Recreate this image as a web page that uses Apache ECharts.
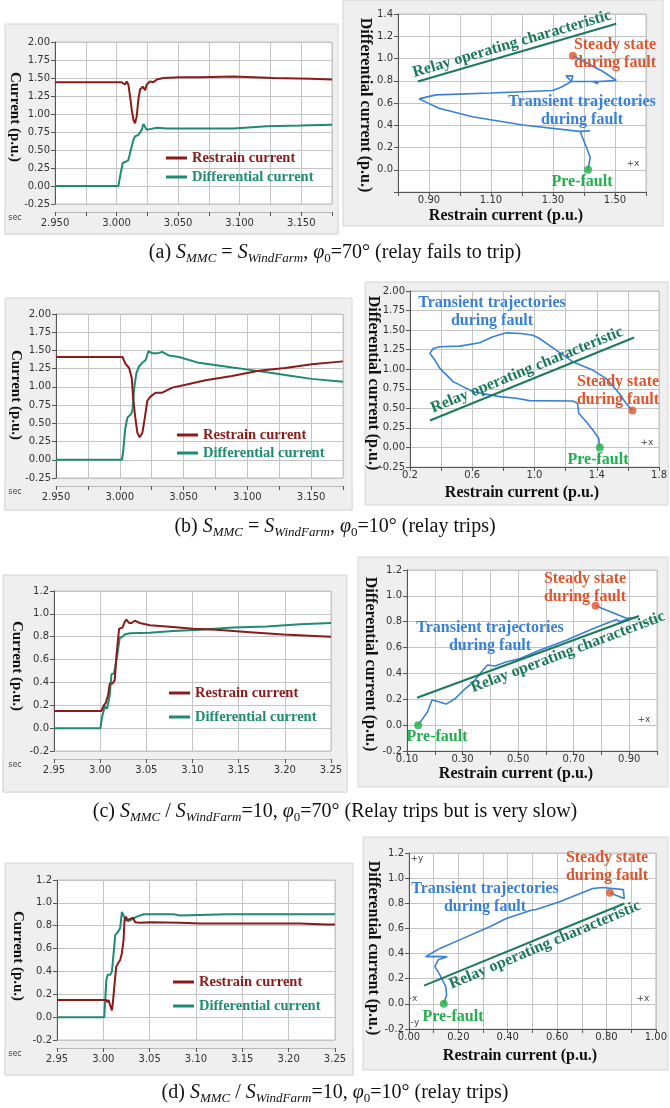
<!DOCTYPE html>
<html>
<head>
<meta charset="utf-8">
<script src="https://cdn.jsdelivr.net/npm/echarts@6/dist/echarts.min.js"></script>
<style>
  html, body { margin: 0; padding: 0; background: #fff; }
  #chart { width: 670px; height: 1108px; }
</style>
</head>
<body>
<div id="chart"></div>
<script>
// ---- (a) S_MMC = S_WindFarm, phi0 = 70
const aRestrainT = [2.95, 3.0042, 3.0069, 3.0083, 3.0096, 3.0110, 3.0123, 3.0137, 3.0150, 3.0164, 3.0177, 3.0191, 3.0213, 3.0232, 3.0245, 3.0272, 3.0299, 3.0327, 3.0381, 3.0516, 3.0679, 3.0950, 3.1275, 3.1573, 3.175]
const aRestrainV = [1.44, 1.44, 1.41, 1.45, 1.41, 1.24, 1.06, 0.92, 0.87, 0.97, 1.20, 1.34, 1.38, 1.33, 1.41, 1.45, 1.44, 1.48, 1.50, 1.51, 1.51, 1.52, 1.50, 1.49, 1.48]
const aDiffT = [2.95, 3.0015, 3.0028, 3.0050, 3.0077, 3.0096, 3.0110, 3.0123, 3.0137, 3.0150, 3.0177, 3.0191, 3.0205, 3.0218, 3.0232, 3.0245, 3.0272, 3.0327, 3.0408, 3.0679, 3.0950, 3.1221, 3.1492, 3.175]
const aDiffV = [0, 0, 0.13, 0.32, 0.34, 0.36, 0.46, 0.55, 0.64, 0.69, 0.71, 0.73, 0.78, 0.86, 0.84, 0.78, 0.79, 0.81, 0.80, 0.80, 0.80, 0.83, 0.84, 0.85]
const aTrajX = [1.413, 1.420, 1.408, 1.395, 1.388, 1.420, 1.385, 1.202, 1.040, 0.932, 0.868, 0.922, 1.100, 1.299, 1.326, 1.359, 1.342, 1.364, 1.359, 1.364, 1.440, 1.445, 1.430, 1.504, 1.461, 1.364]
const aTrajY = [0.000, 0.110, 0.200, 0.290, 0.342, 0.350, 0.345, 0.402, 0.477, 0.553, 0.637, 0.673, 0.690, 0.712, 0.742, 0.793, 0.844, 0.844, 0.793, 0.778, 0.793, 0.772, 0.790, 0.802, 0.883, 1.024]
const aRelayX = [0.864, 1.504]
const aRelayY = [0.793, 1.313]
const aSteady = [1.364, 1.024]
const aPre = [1.413, 0.0]

// ---- (b) S_MMC = S_WindFarm, phi0 = 10
const bRestrainT = [2.95, 3.0021, 3.0047, 3.0073, 3.0094, 3.0104, 3.0120, 3.0138, 3.0156, 3.0177, 3.0195, 3.0216, 3.0242, 3.0281, 3.0333, 3.0411, 3.0516, 3.0672, 3.0880, 3.1089, 3.1297, 3.1505, 3.175]
const bRestrainV = [1.41, 1.41, 1.31, 1.26, 1.12, 0.87, 0.60, 0.37, 0.31, 0.37, 0.56, 0.81, 0.87, 0.92, 0.92, 0.99, 1.03, 1.09, 1.15, 1.22, 1.26, 1.31, 1.35]
const bDiffT = [2.95, 3.0016, 3.0026, 3.0042, 3.0060, 3.0086, 3.0099, 3.0112, 3.0130, 3.0151, 3.0177, 3.0203, 3.0224, 3.0255, 3.0294, 3.0333, 3.0385, 3.0464, 3.0620, 3.0828, 3.1036, 3.1193, 3.1349, 3.1505, 3.175]
const bDiffV = [0, 0, 0.10, 0.42, 0.58, 0.62, 0.67, 0.97, 1.19, 1.28, 1.33, 1.37, 1.49, 1.46, 1.46, 1.48, 1.43, 1.41, 1.33, 1.28, 1.23, 1.19, 1.15, 1.11, 1.07]
const bTrajX = [1.420, 1.412, 1.373, 1.331, 1.284, 1.277, 1.271, 1.245, 0.968, 0.883, 0.776, 0.605, 0.477, 0.392, 0.360, 0.328, 0.349, 0.392, 0.520, 0.648, 0.733, 0.819, 0.915, 0.989, 1.032, 1.139, 1.245, 1.373, 1.459, 1.544, 1.587, 1.629]
const bTrajY = [0.000, 0.119, 0.225, 0.331, 0.437, 0.565, 0.586, 0.594, 0.599, 0.628, 0.650, 0.713, 0.841, 1.011, 1.117, 1.202, 1.265, 1.287, 1.295, 1.338, 1.414, 1.465, 1.456, 1.435, 1.393, 1.244, 1.096, 0.989, 0.883, 0.692, 0.565, 0.471]
const bRelayX = [0.328, 1.640]
const bRelayY = [0.344, 1.406]
const bSteady = [1.629, 0.471]
const bPre = [1.420, 0.0]

// ---- (c) S_MMC / S_WindFarm = 10, phi0 = 70
const cRestrainT = [2.95, 3.0013, 3.0039, 3.0060, 3.0086, 3.0104, 3.0133, 3.0158, 3.0176, 3.0205, 3.0241, 3.0266, 3.0285, 3.0313, 3.0339, 3.0375, 3.0429, 3.0538, 3.0718, 3.1008, 3.1261, 3.1622, 3.1984, 3.25]
const cRestrainV = [0.15, 0.15, 0.20, 0.22, 0.29, 0.39, 0.39, 0.42, 0.63, 0.87, 0.88, 0.93, 0.95, 0.92, 0.92, 0.94, 0.92, 0.90, 0.89, 0.87, 0.86, 0.84, 0.82, 0.80]
const cDiffT = [2.95, 3.0003, 3.0021, 3.0050, 3.0075, 3.0104, 3.0122, 3.0151, 3.0169, 3.0183, 3.0212, 3.0241, 3.0266, 3.0321, 3.0538, 3.0791, 3.1080, 3.1441, 3.1803, 3.2165, 3.25]
const cDiffV = [0, 0, 0.10, 0.19, 0.17, 0.29, 0.47, 0.48, 0.47, 0.63, 0.79, 0.80, 0.82, 0.83, 0.835, 0.85, 0.86, 0.88, 0.89, 0.91, 0.92]
const cTrajX = [0.140, 0.174, 0.190, 0.214, 0.241, 0.274, 0.304, 0.340, 0.363, 0.390, 0.417, 0.459, 0.507, 0.579, 0.675, 0.771, 0.854, 0.866, 0.902, 0.930, 0.890, 0.779]
const cTrajY = [0.000, 0.103, 0.194, 0.181, 0.163, 0.206, 0.271, 0.335, 0.400, 0.465, 0.457, 0.490, 0.516, 0.581, 0.658, 0.748, 0.818, 0.800, 0.826, 0.834, 0.826, 0.924]
const cRelayX = [0.136, 0.935]
const cRelayY = [0.212, 0.844]
const cSteady = [0.779, 0.924]
const cPre = [0.140, 0.0]

// ---- (d) S_MMC / S_WindFarm = 10, phi0 = 10
const dRestrainT = [2.95, 3.0032, 3.0046, 3.0057, 3.0075, 3.0093, 3.0103, 3.0118, 3.0139, 3.0165, 3.0182, 3.0200, 3.0218, 3.0229, 3.0244, 3.0261, 3.0290, 3.0319, 3.0344, 3.0398, 3.0506, 3.0829, 3.1045, 3.2122, 3.2409, 3.25]
const dRestrainV = [0.15, 0.15, 0.13, 0.15, 0.10, 0.06, 0.13, 0.26, 0.44, 0.48, 0.50, 0.56, 0.67, 0.85, 0.88, 0.85, 0.86, 0.87, 0.83, 0.825, 0.83, 0.825, 0.82, 0.82, 0.81, 0.81]
const dDiffT = [2.95, 3.0010, 3.0032, 3.0046, 3.0075, 3.0093, 3.0111, 3.0129, 3.0154, 3.0182, 3.0200, 3.0218, 3.0236, 3.0272, 3.0308, 3.0362, 3.0434, 3.0757, 3.0829, 3.1332, 3.25]
const dDiffV = [0, 0, 0.32, 0.37, 0.37, 0.40, 0.56, 0.72, 0.74, 0.78, 0.92, 0.89, 0.85, 0.84, 0.855, 0.88, 0.90, 0.90, 0.89, 0.90, 0.90]
const dTrajX = [0.141, 0.152, 0.149, 0.125, 0.105, 0.118, 0.155, 0.112, 0.067, 0.125, 0.219, 0.327, 0.394, 0.495, 0.515, 0.610, 0.744, 0.785, 0.868, 0.872, 0.838, 0.814]
const dTrajY = [0.000, 0.071, 0.137, 0.230, 0.296, 0.350, 0.375, 0.378, 0.375, 0.441, 0.521, 0.613, 0.679, 0.745, 0.751, 0.812, 0.917, 0.925, 0.909, 0.838, 0.864, 0.883]
const dRelayX = [0.061, 0.872]
const dRelayY = [0.145, 0.798]
const dSteady = [0.814, 0.883]
const dPre = [0.141, 0.0]

const SERIF = 'Liberation Serif'
const SANS = 'DejaVu Sans'
const C_RES = '#8b1a1a'
const C_DIF = '#1f8b71'
const C_TRAJ = '#3a80d6'
const C_RELAY = '#1b7a5b'
const C_STEADY = '#e0552e'
const C_PRE = '#21b04c'

const grids = [], xAxes = [], yAxes = [], series = [], legends = [], graphics = []

const pairs = (xs, ys) => xs.map((x, i) => [x, ys[i]])

const tickLabel = { fontFamily: SANS, fontSize: 10, color: '#333' }

function grayBox(x, y, w, h, fill) {
  graphics.push({ type: 'rect', z: -10, shape: { x, y, width: w, height: h }, style: { fill: fill || '#efefef', stroke: '#d6d6d6', lineWidth: 1 } })
}

function label(x, y, str, color, size, rot) {
  graphics.push({
    type: 'text', x, y, rotation: rot || 0, z: 50,
    style: { text: str, fill: color, font: `bold ${size}px "${SERIF}"`, align: 'center', verticalAlign: 'middle', textAlign: 'center', textVerticalAlign: 'middle' }
  })
}

function small(x, y, str, size) {
  graphics.push({
    type: 'text', x, y, z: 50,
    style: { text: str, fill: '#444', font: `${size || 8}px "${SANS}"`, align: 'center', verticalAlign: 'middle', textAlign: 'center', textVerticalAlign: 'middle' }
  })
}

function addGrid(r) {
  grids.push({ left: r[0], top: r[1], width: r[2], height: r[3], show: true, backgroundColor: '#fff', borderColor: '#c4c4c4', borderWidth: 1 })
  return grids.length - 1
}

function yAxis(g, o) {
  yAxes.push({
    gridIndex: g, type: 'value', min: o.yMin, max: o.yMax, interval: o.yInt,
    axisLine: { show: true, onZero: false, lineStyle: { color: '#555' } },
    axisTick: { show: true, length: 4, lineStyle: { color: '#555' } },
    splitLine: { show: true, lineStyle: { color: '#c4c4c4' } },
    axisLabel: { ...tickLabel, margin: 5, formatter: o.yFmt }
  })
}

// time series panel (left column)
function timePanel(o) {
  const g = addGrid(o.rect)
  xAxes.push({
    gridIndex: g, type: 'value', min: 2.95, max: o.xMax, interval: o.xInt, offset: 8,
    axisLine: { show: true, onZero: false, lineStyle: { color: '#b8b8b8' } },
    axisTick: { show: true, length: 4, lineStyle: { color: '#555' } },
    splitLine: { show: true, lineStyle: { color: '#c4c4c4' } },
    axisLabel: { ...tickLabel, margin: 6, formatter: o.xFmt }
  })
  yAxis(g, o)
  series.push({ name: 'Restrain current', type: 'line', xAxisIndex: g, yAxisIndex: g, data: pairs(o.rt, o.rv),
    symbol: 'none', lineStyle: { width: 2, color: C_RES }, itemStyle: { color: C_RES }, z: 4 })
  series.push({ name: 'Differential current', type: 'line', xAxisIndex: g, yAxisIndex: g, data: pairs(o.dt, o.dv),
    symbol: 'none', lineStyle: { width: 2, color: C_DIF }, itemStyle: { color: C_DIF }, z: 3 })
  legends.push({
    left: o.legend[0], top: o.legend[1], orient: 'vertical', padding: 0, itemGap: o.legend[2],
    itemWidth: 21, itemHeight: 3, icon: 'rect', selectedMode: false,
    textStyle: { fontFamily: SERIF, fontWeight: 'bold', fontSize: 14.5, lineHeight: 17 },
    data: [{ name: 'Restrain current', textStyle: { color: C_RES } }, { name: 'Differential current', textStyle: { color: C_DIF } }]
  })
  const r = o.rect
  grayBox(o.box[0], r[1] + r[3] + 8, o.box[2], o.box[1] + o.box[3] - (r[1] + r[3] + 8), '#f6f6f6')
  grayBox(...o.box)
  small(15, r[1] + r[3] + 14, 'sec')
  label(o.yTitle[0], o.yTitle[1], 'Current (p.u.)', '#111', 15, -Math.PI / 2)
}

// operating-plane panel (right column)
function trajPanel(o) {
  const g = addGrid(o.rect)
  xAxes.push({
    gridIndex: g, type: 'value', min: o.xMin, max: o.xMax, interval: o.xInt,
    axisLine: { show: true, onZero: false, lineStyle: { color: '#555' } },
    axisTick: { show: true, length: 4, lineStyle: { color: '#555' } },
    splitLine: { show: true, lineStyle: { color: '#c4c4c4' } },
    axisLabel: { ...tickLabel, margin: 3, formatter: o.xFmt }
  })
  yAxis(g, o)
  series.push({ name: 'traj' + g, type: 'line', xAxisIndex: g, yAxisIndex: g, data: pairs(o.tx, o.ty),
    symbol: 'none', lineStyle: { width: 1.6, color: C_TRAJ }, z: 3 })
  series.push({ name: 'relay' + g, type: 'line', xAxisIndex: g, yAxisIndex: g, data: pairs(o.rx, o.ry),
    symbol: 'none', lineStyle: { width: 2, color: C_RELAY }, z: 4 })
  series.push({ name: 'pts' + g, type: 'scatter', xAxisIndex: g, yAxisIndex: g, symbolSize: 8, z: 5,
    data: [{ value: o.steady, itemStyle: { color: C_STEADY } }, { value: o.pre, itemStyle: { color: C_PRE } }] })
  grayBox(...o.box)
  label(o.yTitle[0], o.yTitle[1], 'Differential current (p.u.)', '#111', 16, -Math.PI / 2)
  label(o.xTitle[0], o.xTitle[1], 'Restrain current (p.u.)', '#111', 16)
  label(o.relayLbl[0], o.relayLbl[1], 'Relay operating characteristic', C_RELAY, 16, o.relayLbl[2])
  label(o.trans[0], o.trans[1], 'Transient trajectories', C_TRAJ, 16)
  label(o.trans[0], o.trans[1] + 18, 'during fault', C_TRAJ, 16)
  label(o.stead[0], o.stead[1], 'Steady state', C_STEADY, 16)
  label(o.stead[0], o.stead[1] + 18, 'during fault', C_STEADY, 16)
  label(o.preLbl[0], o.preLbl[1], 'Pre-fault', C_PRE, 16)
}

const fmtMs = v => { const k = Math.round(v * 1000); return k % 50 === 0 ? (k / 1000).toFixed(3) : '' }
const fmt2 = v => v.toFixed(2)
const fmt1 = v => v.toFixed(1)

timePanel({ rect: [55, 42, 277, 162], box: [5, 24, 333, 210], xMax: 3.175, xInt: 0.025, xFmt: fmtMs,
  yMin: -0.25, yMax: 2.0, yInt: 0.25, yFmt: fmt2, rt: aRestrainT, rv: aRestrainV, dt: aDiffT, dv: aDiffV,
  legend: [166, 149.5, 2], yTitle: [15, 117] })
trajPanel({ rect: [398, 14, 248, 178], box: [343, 0, 320, 226], xMin: 0.8, xMax: 1.6, xInt: 0.1,
  xFmt: v => Math.round(v * 10) % 2 === 1 ? v.toFixed(2) : '',
  yMin: -0.2, yMax: 1.4, yInt: 0.2, yFmt: v => v < -0.1 ? '' : v.toFixed(1),
  tx: aTrajX, ty: aTrajY, rx: aRelayX, ry: aRelayY, steady: aSteady, pre: aPre,
  yTitle: [365, 105], xTitle: [506, 216], relayLbl: [512, 44, 0.285], trans: [582, 102], stead: [615, 45], preLbl: [582, 182] })
small(633, 164, '+x', 9)

timePanel({ rect: [56, 314, 287, 164], box: [5, 298, 347, 212], xMax: 3.175, xInt: 0.025, xFmt: fmtMs,
  yMin: -0.25, yMax: 2.0, yInt: 0.25, yFmt: fmt2, rt: bRestrainT, rv: bRestrainV, dt: bDiffT, dv: bDiffV,
  legend: [177, 426.5, 1], yTitle: [16, 395] })
trajPanel({ rect: [410, 291, 250, 176], box: [365, 282, 303, 223], xMin: 0.2, xMax: 1.8, xInt: 0.2,
  xFmt: v => Math.round(v * 10) % 4 === 2 ? v.toFixed(1) : '',
  yMin: -0.25, yMax: 2.0, yInt: 0.25, yFmt: fmt2,
  tx: bTrajX, ty: bTrajY, rx: bRelayX, ry: bRelayY, steady: bSteady, pre: bPre,
  yTitle: [373, 383], xTitle: [522, 493], relayLbl: [527, 370, 0.386], trans: [492, 303], stead: [618, 382], preLbl: [598, 460] })
small(647, 443, '+x', 9)

timePanel({ rect: [54, 591, 277, 160], box: [3, 575, 344, 217], xMax: 3.25, xInt: 0.05, xFmt: fmt2,
  yMin: -0.2, yMax: 1.2, yInt: 0.2, yFmt: fmt1, rt: cRestrainT, rv: cRestrainV, dt: cDiffT, dv: cDiffV,
  legend: [169, 684.5, 7], yTitle: [17, 666] })
trajPanel({ rect: [407, 570, 250, 181], box: [358, 557, 310, 230], xMin: 0.1, xMax: 1.0, xInt: 0.1,
  xFmt: v => Math.round(v * 10) % 2 === 1 ? v.toFixed(2) : '',
  yMin: -0.2, yMax: 1.2, yInt: 0.2, yFmt: fmt1,
  tx: cTrajX, ty: cTrajY, rx: cRelayX, ry: cRelayY, steady: cSteady, pre: cPre,
  yTitle: [370, 664], xTitle: [516, 774], relayLbl: [568, 652, 0.36], trans: [490, 628], stead: [585, 579], preLbl: [437, 737] })
small(644, 720, '+x', 9)

timePanel({ rect: [57, 880, 278, 160], box: [5, 863, 348, 212], xMax: 3.25, xInt: 0.05, xFmt: fmt2,
  yMin: -0.2, yMax: 1.2, yInt: 0.2, yFmt: fmt1, rt: dRestrainT, rv: dRestrainV, dt: dDiffT, dv: dDiffV,
  legend: [173, 973.5, 7], yTitle: [18, 956] })
trajPanel({ rect: [409, 853, 247, 176], box: [363, 837, 305, 233], xMin: 0, xMax: 1.0, xInt: 0.1,
  xFmt: v => Math.round(v * 10) % 2 === 0 ? v.toFixed(2) : '',
  yMin: -0.2, yMax: 1.2, yInt: 0.2, yFmt: fmt1,
  tx: dTrajX, ty: dTrajY, rx: dRelayX, ry: dRelayY, steady: dSteady, pre: dPre,
  yTitle: [373, 948], xTitle: [520, 1056], relayLbl: [545, 945, 0.398], trans: [485, 889], stead: [607, 858], preLbl: [453, 1017] })
small(417, 859, '+y', 9)
small(413, 999, '-x', 9)
small(643, 999, '+x', 9)
small(415, 1023, '-y', 9)

// captions
const tok = (size, italic, drop) => ({ fontFamily: SERIF, fontSize: size, fontStyle: italic ? 'italic' : 'normal', fill: '#111', color: '#111', padding: drop ? [12, 0, 0, 0] : 0 })
const capRich = { n: tok(20, false), i: tok(20, true), s: tok(13, true, true), z: tok(13, false, true) }
function caption(y, str) {
  graphics.push({ type: 'text', x: 335, y, z: 50,
    style: { text: str, rich: capRich, align: 'center', verticalAlign: 'middle', textAlign: 'center', textVerticalAlign: 'middle' } })
}
caption(253, '{n|(a) }{i|S}{s|MMC}{n| = }{i|S}{s|WindFarm}{n|, }{i|φ}{z|0}{n|=70° (relay fails to trip)}')
caption(527, '{n|(b) }{i|S}{s|MMC}{n| = }{i|S}{s|WindFarm}{n|, }{i|φ}{z|0}{n|=10° (relay trips)}')
caption(812, '{n|(c) }{i|S}{s|MMC}{n| / }{i|S}{s|WindFarm}{n|=10, }{i|φ}{z|0}{n|=70° (Relay trips but is very slow)}')
caption(1093, '{n|(d) }{i|S}{s|MMC}{n| / }{i|S}{s|WindFarm}{n|=10, }{i|φ}{z|0}{n|=10° (relay trips)}')

const chart = echarts.init(document.getElementById('chart'))
chart.setOption({
  animation: false,
  backgroundColor: '#fff',
  grid: grids,
  xAxis: xAxes,
  yAxis: yAxes,
  legend: legends,
  series: series,
  graphic: { elements: graphics }
})
</script>
</body>
</html>
